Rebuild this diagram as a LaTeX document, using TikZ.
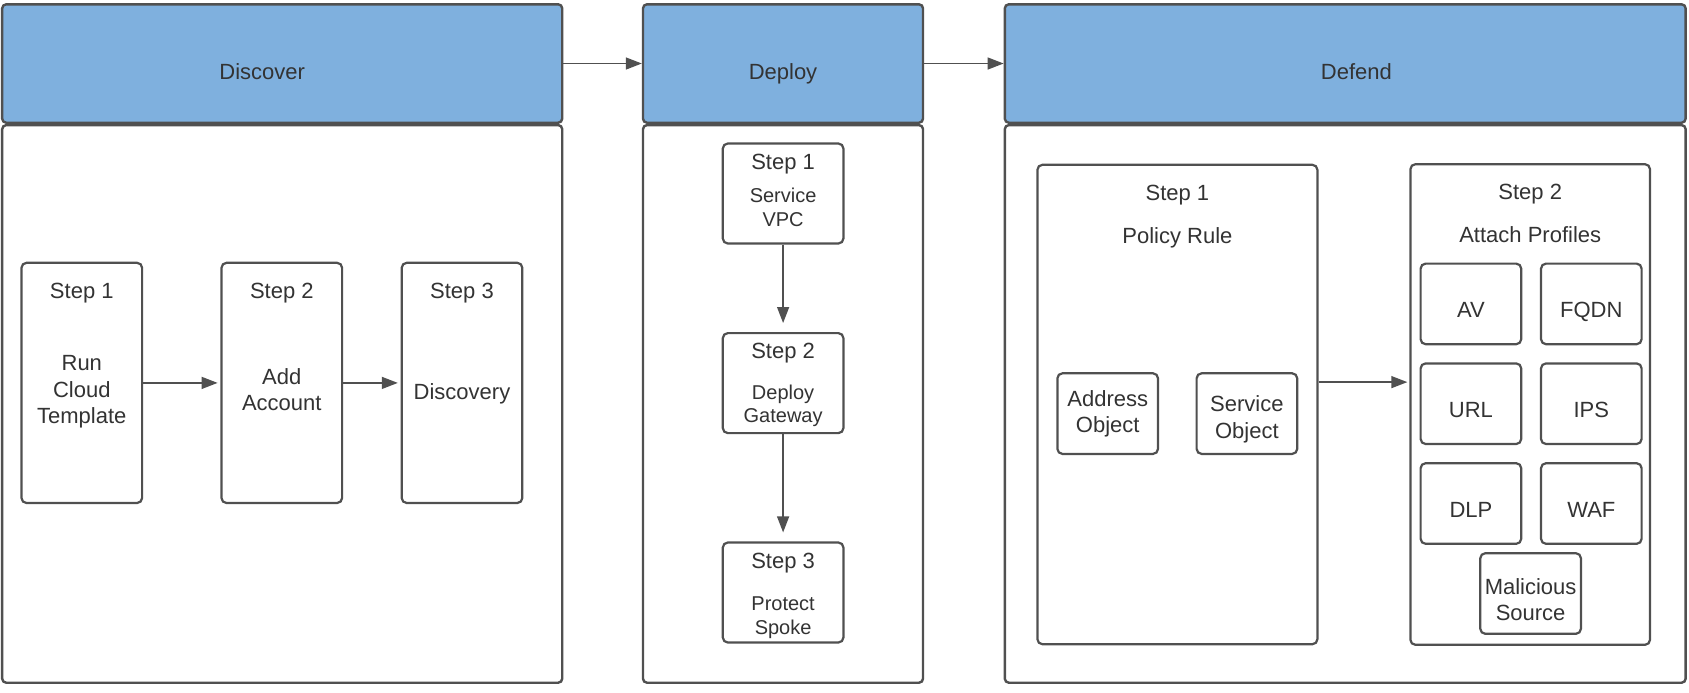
\documentclass[tikz,border=0pt]{standalone}
\usepackage{fontspec}
\setmainfont{Liberation Sans}
\usetikzlibrary{positioning}
\usetikzlibrary{arrows.meta}

\definecolor{headblue}{HTML}{7FB0DE}
\definecolor{linegray}{HTML}{505050}
\definecolor{textgray}{HTML}{333333}

\begin{document}
\begin{tikzpicture}[
                x=0.5pt, y=-0.5pt,
                >={Triangle[length=8pt, width=6pt]},
                headnode/.style={rectangle, draw=linegray, fill=headblue, line width=1.2pt, rounded corners=2pt, minimum height=59.2pt},
                headtext/.style={inner sep=0pt, outer sep=0pt, text=textgray, font=\fontsize{11}{13.2}\selectfont, text height=15.9pt, text depth=0pt},
                bodynode/.style={rectangle, draw=linegray, fill=white, line width=1.2pt, rounded corners=2pt, minimum height=278.8pt},
                stepnode/.style={rectangle, draw=linegray, line width=1.1pt, rounded corners=2.5pt},
                objnode/.style={rectangle, draw=linegray, line width=1.1pt, rounded corners=2.5pt, minimum width=50.3pt, minimum height=40.3pt, inner xsep=1pt, align=center, text=textgray, font=\fontsize{11}{13.2}\selectfont},
                profilenode/.style={objnode, text height=13.9pt, text depth=0pt},
                titletext/.style={inner sep=0pt, outer sep=0pt, text=textgray, font=\fontsize{11}{13.2}\selectfont},
                bodytext/.style={inner sep=0pt, outer sep=0pt, align=center, text=textgray, font=\fontsize{11}{13.2}\selectfont},
                smalltext/.style={inner sep=0pt, outer sep=0pt, align=center, text=textgray, font=\fontsize{10}{11.6}\selectfont},
                flow/.style={->, draw=linegray, line width=0.7pt},
            ]
            \useasboundingbox (0,0) rectangle (1689,692);

            % Nodes
            \node[headnode, minimum width=280pt]    (discover) at (282.2,63.5)            {};
            \node[headnode, minimum width=140pt]    (deploy)   [right=39.2pt of discover] {};
            \node[headnode, minimum width=340.4pt]  (defend)   [right=39.7pt of deploy]   {};
            \node[headtext, xshift=-10pt]  (discover_text) at (discover) {Discover};
            \node[headtext]                (deploy_text)   at (deploy)   {Deploy};
            \node[headtext, xshift=5.6pt]  (defend_text)   at (defend)   {Defend};
            \node[bodynode, minimum width=280pt]    (discover_body) [below=0pt of discover] {};
            \node[bodynode, minimum width=140pt]    (deploy_body)   [below=0pt of deploy]   {};
            \node[bodynode, minimum width=340.4pt]  (defend_body)   [below=0pt of defend]   {};

            \node[stepnode, minimum width=60.3pt, minimum height=120.1pt] (dis_s1) at (81.8,382.9) {};
            \node[stepnode, minimum width=60.3pt, minimum height=120.1pt] (dis_s2) [right=38.6pt of dis_s1] {};
            \node[stepnode, minimum width=60.3pt, minimum height=120.1pt] (dis_s3) [right=28.7pt of dis_s2] {};
            \node[titletext]  (dis_s1_title) [below=10.95pt of dis_s1.north] {Step 1};
            \node[titletext]  (dis_s2_title) [below=10.95pt of dis_s2.north] {Step 2};
            \node[titletext]  (dis_s3_title) [below=10.95pt of dis_s3.north] {Step 3};
            \node[bodytext, yshift=-4.5pt] (dis_s1_text) at (dis_s1.center) {Run\\Cloud\\Template};
            \node[bodytext, yshift=-3.5pt] (dis_s2_text) at (dis_s2.center) {Add\\Account};
            \node[bodytext, yshift=-5.5pt] (dis_s3_text) at (dis_s3.center) {Discovery};

            \node[stepnode, minimum width=60.3pt, minimum height=50pt] (dep_s1) at (783.1,193.5) {};
            \node[stepnode, minimum width=60.3pt, minimum height=50pt] (dep_s2) [below=43.7pt of dep_s1] {};
            \node[stepnode, minimum width=60.3pt, minimum height=50pt] (dep_s3) [below=53.6pt of dep_s2] {};
            \node[titletext]  (dep_s1_title) [below=5.75pt of dep_s1.north] {Step 1};
            \node[titletext]  (dep_s2_title) [below=5.75pt of dep_s2.north] {Step 2};
            \node[titletext]  (dep_s3_title) [below=5.75pt of dep_s3.north] {Step 3};
            \node[smalltext]  (dep_s1_text)  [below=7.3pt of dep_s1_title]  {Service\\VPC};
            \node[smalltext]  (dep_s2_text)  [below=10.8pt of dep_s2_title] {Deploy\\Gateway};
            \node[smalltext]  (dep_s3_text)  [below=12.1pt of dep_s3_title] {Protect\\Spoke};

            \node[stepnode, minimum width=140pt, minimum height=239.7pt]   (def_s1) at (1177.4,404.5) {};
            \node[stepnode, minimum width=119.8pt, minimum height=240.3pt] (def_s2) [right=45.4pt of def_s1] {};
            \node[titletext]  (def_s1_title) [below=10.6pt of def_s1.north] {Step 1};
            \node[titletext]  (def_s2_title) [below=10.6pt of def_s2.north] {Step 2};
            \node[titletext]  (def_s1_text)  [below=11.3pt of def_s1_title] {Policy Rule};
            \node[titletext]  (def_s2_text)  [below=11.3pt of def_s2_title] {Attach Profiles};

            \node[objnode]     (addr_obj) at (1107.7,413.6) {Address\\Object};
            \node[objnode, text height=24.5pt, text depth=0pt] (serv_obj) [right=18.2pt of addr_obj] {Service\\Object};

            \node[profilenode] (av)   at (1470.9,303.9)        {AV};
            \node[profilenode] (fqdn) [right=8.8pt of av]    {FQDN};
            \node[profilenode] (url)  [below=8.5pt of av]    {URL};
            \node[profilenode] (ips)  [right=8.8pt of url]   {IPS};
            \node[profilenode] (dlp)  [below=8.5pt of url]   {DLP};
            \node[profilenode] (waf)  [right=8.8pt of dlp]   {WAF};
            \node[profilenode, text height=27.1pt] (malicious) at (1530.6,593.5) {Malicious\\Source};

            %Lines
            \draw[flow] (discover.east) -- (deploy.west);
            \draw[flow] (deploy.east) -- (defend.west);

            \draw[flow, shorten >=1.4pt] (dis_s1.east) -- (dis_s2.west);
            \draw[flow, shorten >=1.4pt] (dis_s2.east) -- (dis_s3.west);

            \draw[flow, shorten >=4.5pt] (dep_s1.south) -- (dep_s2.north);
            \draw[flow, shorten >=4.5pt] (dep_s2.south) -- (dep_s3.north);

            \draw[flow, shorten >=1pt] ([yshift=11.2pt]def_s1.east) -- ([yshift=11.2pt]def_s2.west);
        \end{tikzpicture}
\end{document}
